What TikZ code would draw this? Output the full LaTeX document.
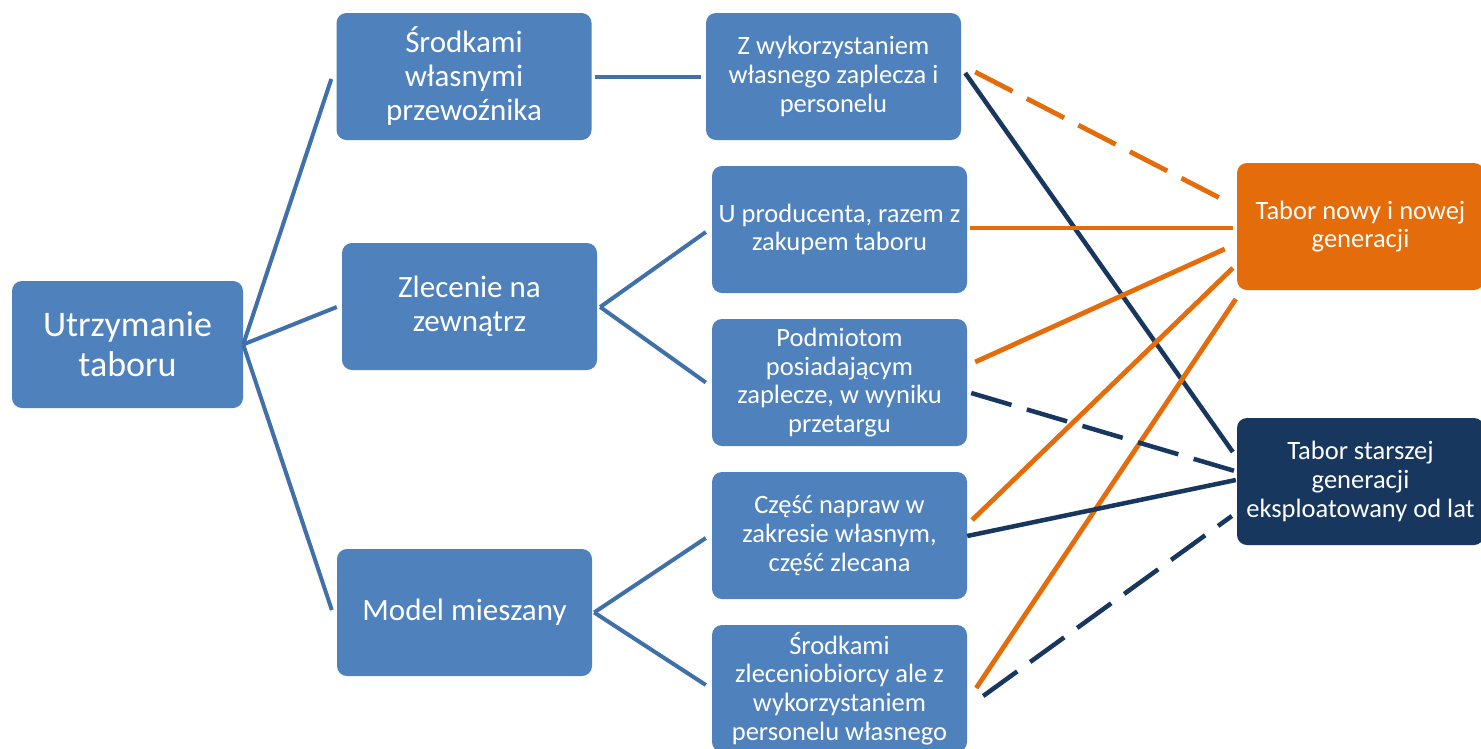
\documentclass[tikz,border=0pt]{standalone}
\usepackage{fontspec}
\setmainfont{Carlito}
\usetikzlibrary{calc}
\definecolor{boxblue}{HTML}{4F81BD}
\definecolor{lineblue}{HTML}{4070AA}
\definecolor{orangeA}{HTML}{E46C0A}
\definecolor{navy}{HTML}{17375E}
\tikzset{
  box/.style={rectangle, rounded corners=10pt, fill=boxblue, text=white, align=center,
    inner sep=0pt, minimum width=255pt, minimum height=127pt},
  rootbox/.style={box, minimum width=231pt, font=\fontsize{36}{40}\selectfont},
  lvlone/.style={box, font=\fontsize{31}{34}\selectfont},
  lvltwo/.style={box, font=\fontsize{26.5}{28.7}\selectfont},
  newbox/.style={lvltwo, fill=orangeA, minimum width=247pt},
  oldbox/.style={lvltwo, fill=navy, minimum width=247pt},
  tree/.style={draw=lineblue, line width=4pt},
  orline/.style={draw=orangeA, line width=4.8pt},
  nvline/.style={draw=navy, line width=4.5pt},
  longdash/.style={dash pattern=on 42pt off 16pt},
}
\begin{document}
\begin{tikzpicture}[x=1pt,y=-1pt]
\clip (0,0) rectangle (1481,748);
\fill[white] (0,0) rectangle (1481,748);

\node[rootbox] (root) at (127.5,344.5) {Utrzymanie\\taboru};
\node[lvlone] (l1a) at (464,76.5) {Środkami\\własnymi\\przewoźnika};
\node[lvlone] (l1b) at (469.5,306.5) {Zlecenie na\\zewnątrz};
\node[lvlone] (l1c) at (464.5,612.5) {Model mieszany};

\node[lvltwo] (l2a) at (833.5,76.5) {Z wykorzystaniem\\własnego zaplecza i\\personelu};
\node[lvltwo] (l2b) at (839.5,229.5) {U producenta, razem z\\zakupem taboru};
\node[lvltwo] (l2c) at (839.5,382.5) {Podmiotom\\posiadającym\\zaplecze, w wyniku\\przetargu};
\node[lvltwo] (l2d) at (839.5,535.5) {Część napraw w\\zakresie własnym,\\część zlecana};
\node[lvltwo] (l2e) at (839.5,688.5) {Środkami\\zleceniobiorcy ale z\\wykorzystaniem\\personelu własnego};

\node[newbox] (rn) at (1360.5,226.5) {Tabor nowy i nowej\\generacji};
\node[oldbox] (ro) at (1360.5,481.5) {Tabor starszej\\generacji\\eksploatowany od lat};

% tree connectors
\draw[tree] (root.east) -- ($(l1a.west)+(-5,2.5)$);
\draw[tree] (root.east) -- ($(l1b.west)+(-5,0.5)$);
\draw[tree] (root.east) -- ($(l1c.west)+(-5,-2.5)$);
\draw[tree] ($(l1a.east)+(3,0.5)$) -- ($(l2a.west)+(-5,0.5)$);
\draw[tree] ($(l1b.east)+(3,0.5)$) -- ($(l2b.west)+(-6,2.5)$);
\draw[tree] ($(l1b.east)+(3,0.5)$) -- ($(l2c.west)+(-6,0)$);
\draw[tree] ($(l1c.east)+(2,0)$) -- ($(l2d.west)+(-6,2.5)$);
\draw[tree] ($(l1c.east)+(2,0)$) -- ($(l2e.west)+(-6,-3.5)$);

% cross connectors
\draw[orline,longdash] ($(l2a.east)+(14,-4.5)$) -- ($(rn.west)+(-15,-27.5)$);
\draw[nvline] ($(l2a.east)+(4,-3.5)$) -- ($(ro.west)+(-4,-29.5)$);
\draw[orline] ($(l2b.east)+(3,-1.5)$) -- ($(rn.west)+(-4,1.5)$);
\draw[orline] ($(l2c.east)+(8,-20.5)$) -- ($(rn.west)+(-12,22.5)$);
\draw[orline] ($(l2d.east)+(5,-15.5)$) -- ($(rn.west)+(-4,41.5)$);
\draw[orline] ($(l2e.east)+(9,-0.5)$) -- ($(rn.west)+(-1,72.5)$);
\draw[nvline,longdash] ($(l2c.east)+(4,10.5)$) -- ($(ro.west)+(-2,-10.5)$);
\draw[nvline] ($(l2d.east)+(0,0.5)$) -- ($(ro.west)+(-1,-1.5)$);
\draw[nvline,longdash] ($(l2e.east)+(16,7.5)$) -- ($(ro.west)+(-5,34.5)$);
\end{tikzpicture}
\end{document}
